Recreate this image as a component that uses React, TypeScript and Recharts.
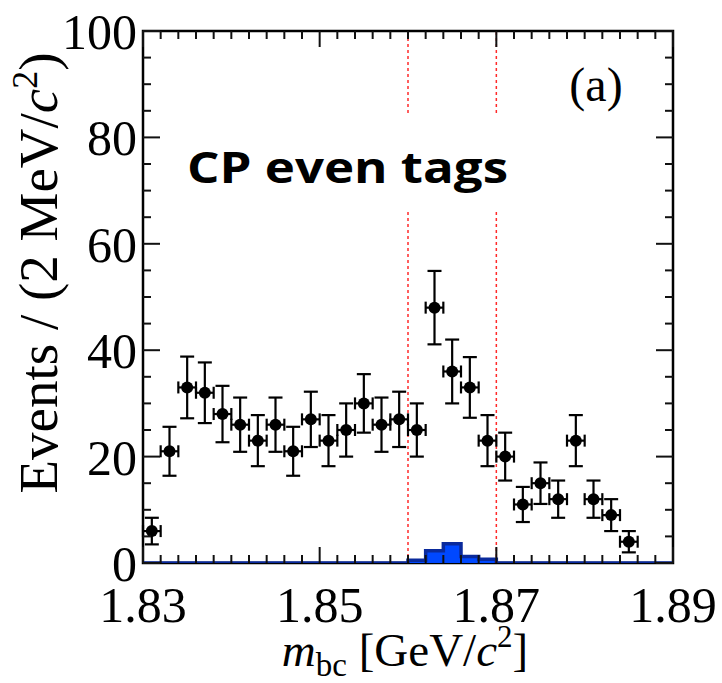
import React from 'react'
import {
  ComposedChart,
  XAxis,
  YAxis,
  Scatter,
  ErrorBar,
  Area,
  ReferenceLine,
  ReferenceArea,
} from 'recharts'

// m_bc bin centres [GeV/c^2] and events per 2 MeV/c^2
const MBC = [
  1.831, 1.833, 1.835, 1.837, 1.839, 1.841, 1.843, 1.845, 1.847, 1.849,
  1.851, 1.853, 1.855, 1.857, 1.859, 1.861, 1.863, 1.865, 1.867, 1.869,
  1.871, 1.873, 1.875, 1.877, 1.879, 1.881, 1.883, 1.885,
]
const EVENTS = [
  6, 21, 33, 32, 28, 26, 23, 26, 21, 27,
  23, 25, 30, 26, 27, 25, 48, 36, 33, 23,
  20, 11, 15, 12, 23, 12, 9, 4,
]
const EVENT_ERR = [
  2.5, 4.6, 5.8, 5.7, 5.3, 5.1, 4.8, 5.1, 4.6, 5.2,
  4.8, 5.0, 5.5, 5.1, 5.2, 5.0, 6.9, 6.0, 5.7, 4.8,
  4.5, 3.3, 3.9, 3.5, 4.8, 3.5, 3.0, 2.0,
]
const BIN_HALF = 0.001

// background histogram (bin low edges + last edge)
const BG_EDGES = [
  1.83, 1.832, 1.834, 1.836, 1.838, 1.84, 1.842, 1.844, 1.846, 1.848,
  1.85, 1.852, 1.854, 1.856, 1.858, 1.86, 1.862, 1.864, 1.866, 1.868,
  1.87, 1.872, 1.874, 1.876, 1.878, 1.88, 1.882, 1.884, 1.886, 1.888, 1.89,
]
const BG_COUNTS = [
  0, 0, 0, 0, 0, 0, 0, 0, 0, 0,
  0, 0, 0, 0, 0, 0.5, 2.3, 3.6, 1.2, 0.7,
  0, 0, 0, 0, 0, 0, 0, 0, 0, 0, 0,
]

const SIGNAL_WINDOW = [1.86, 1.87]

const X_TICKS = BG_EDGES
const X_LABELS = [1.83, 1.85, 1.87, 1.89]
const Y_TICKS = [0, 5, 10, 15, 20, 25, 30, 35, 40, 45, 50, 55, 60, 65, 70, 75, 80, 85, 90, 95, 100]
const Y_LABELS = [0, 20, 40, 60, 80, 100]

const points = MBC.map((x, i) => ({ x, y: EVENTS[i], ey: EVENT_ERR[i], ex: BIN_HALF }))
const hist = BG_EDGES.map((x, i) => ({ x, bg: BG_COUNTS[i] }))

const SERIF = '"Liberation Serif", "Times New Roman", serif'
const TICK_COLOR = '#111'

const near = (v: number, list: number[]) => list.some((m) => Math.abs(m - v) < 1e-6)

// plot box edges in page pixels
const PLOT = { left: 143, right: 673, top: 31, bottom: 563 }

function BottomTick({ x, payload }: any) {
  const major = near(payload.value, X_LABELS)
  const y = PLOT.bottom
  return (
    <g>
      <path d={`M${x},${y}V${y - (major ? 16 : 8)}`} stroke={TICK_COLOR} strokeWidth={2} fill="none" />
      {major && (
        <text x={x} y={y + 59} textAnchor="middle" fontFamily={SERIF} fontSize={50} fill="#000">
          {payload.value.toFixed(2)}
        </text>
      )}
    </g>
  )
}

function TopTick({ x, payload }: any) {
  const major = near(payload.value, X_LABELS)
  const y = PLOT.top
  return (
    <g>
      <path d={`M${x},${y}V${y + (major ? 16 : 8)}`} stroke={TICK_COLOR} strokeWidth={2} fill="none" />
    </g>
  )
}

function LeftTick({ y, payload }: any) {
  const major = near(payload.value, Y_LABELS)
  const x = PLOT.left
  return (
    <g>
      <path d={`M${x},${y}H${x + (major ? 17 : 8)}`} stroke={TICK_COLOR} strokeWidth={2} fill="none" />
      {major && (
        <text x={x - 6} y={y + 18} textAnchor="end" fontFamily={SERIF} fontSize={50} fill="#000">
          {payload.value}
        </text>
      )}
    </g>
  )
}

function RightTick({ y, payload }: any) {
  const major = near(payload.value, Y_LABELS)
  const x = PLOT.right
  return (
    <g>
      <path d={`M${x},${y}H${x - (major ? 17 : 8)}`} stroke={TICK_COLOR} strokeWidth={2} fill="none" />
    </g>
  )
}

function Dot({ cx, cy }: any) {
  return <circle cx={cx} cy={cy} r={6} fill="#000" />
}

const axisCommon = {
  allowDataOverflow: true,
  interval: 0 as const,
  tickSize: 0,
  tickMargin: 0,
  axisLine: false,
  tickLine: false,
}

export default function App() {
  return (
    <div style={{ position: 'absolute', left: 0, top: 0, width: 722, height: 683, background: '#fff' }}>
      <ComposedChart
        width={722}
        height={683}
        data={hist}
        margin={{ top: 30, right: 48, bottom: 119, left: 142 }}
      >
        <XAxis
          {...axisCommon}
          xAxisId="b"
          dataKey="x"
          type="number"
          domain={[1.83, 1.89]}
          ticks={X_TICKS}
          height={1}
          tick={<BottomTick />}
        />
        <XAxis
          {...axisCommon}
          xAxisId="t"
          orientation="top"
          dataKey="x"
          type="number"
          domain={[1.83, 1.89]}
          ticks={X_TICKS}
          height={1}
          tick={<TopTick />}
        />
        <YAxis
          {...axisCommon}
          yAxisId="l"
          type="number"
          domain={[0, 100]}
          ticks={Y_TICKS}
          width={1}
          tick={<LeftTick />}
        />
        <YAxis
          {...axisCommon}
          yAxisId="r"
          orientation="right"
          type="number"
          domain={[0, 100]}
          ticks={Y_TICKS}
          width={1}
          tick={<RightTick />}
        />
        {SIGNAL_WINDOW.map((v) => (
          <ReferenceLine
            key={v}
            xAxisId="b"
            yAxisId="l"
            x={v}
            stroke="#ff2a2a"
            strokeWidth={1.5}
            strokeDasharray="3 3"
          />
        ))}
        <ReferenceArea
          xAxisId="b"
          yAxisId="l"
          x1={1.83}
          x2={1.89}
          y1={0}
          y2={100}
          fill="none"
          stroke="#000"
          strokeWidth={2.5}
        />
        <Area
          xAxisId="b"
          yAxisId="l"
          dataKey="bg"
          type="stepAfter"
          stroke="#0a2a9c"
          strokeWidth={3.5}
          fill="#0048ff"
          fillOpacity={1}
          isAnimationActive={false}
          dot={false}
          activeDot={false}
        />
        <Scatter
          xAxisId="b"
          yAxisId="l"
          data={points}
          dataKey="y"
          shape={<Dot />}
          isAnimationActive={false}
        >
          <ErrorBar dataKey="ey" direction="y" width={7} stroke="#000" strokeWidth={2.2} />
          <ErrorBar dataKey="ex" direction="x" width={6} stroke="#000" strokeWidth={2.2} />
        </Scatter>
      </ComposedChart>
      <svg
        width={722}
        height={683}
        style={{ position: 'absolute', left: 0, top: 0, pointerEvents: 'none' }}
      >
        <rect x={180} y={114} width={345} height={98} fill="#fff" />
        <text
          x={187}
          y={183}
          fontFamily='"Open Sans", "Noto Sans", sans-serif'
          fontWeight={700}
          fontSize={43}
          textLength={321}
          lengthAdjust="spacingAndGlyphs"
          fill="#000"
        >
          CP even tags
        </text>
        <text x={596} y={101} textAnchor="middle" fontFamily={SERIF} fontSize={48} fill="#000">
          (a)
        </text>
        <text
          transform="translate(57, 273) rotate(-90)"
          textAnchor="middle"
          fontFamily={SERIF}
          fontSize={55}
          fill="#000"
        >
          Events / (2 MeV/<tspan fontStyle="italic">c</tspan>
          <tspan dy={-20} fontSize={36}>2</tspan>
          <tspan dy={20}>)</tspan>
        </text>
        <text x={405} y={666} textAnchor="middle" fontFamily={SERIF} fontSize={47} fill="#000">
          <tspan fontStyle="italic">m</tspan>
          <tspan dy={10} fontSize={33}>bc</tspan>
          <tspan dy={-10}> [GeV/</tspan>
          <tspan fontStyle="italic">c</tspan>
          <tspan dy={-19} fontSize={31}>2</tspan>
          <tspan dy={19}>]</tspan>
        </text>
      </svg>
    </div>
  )
}
